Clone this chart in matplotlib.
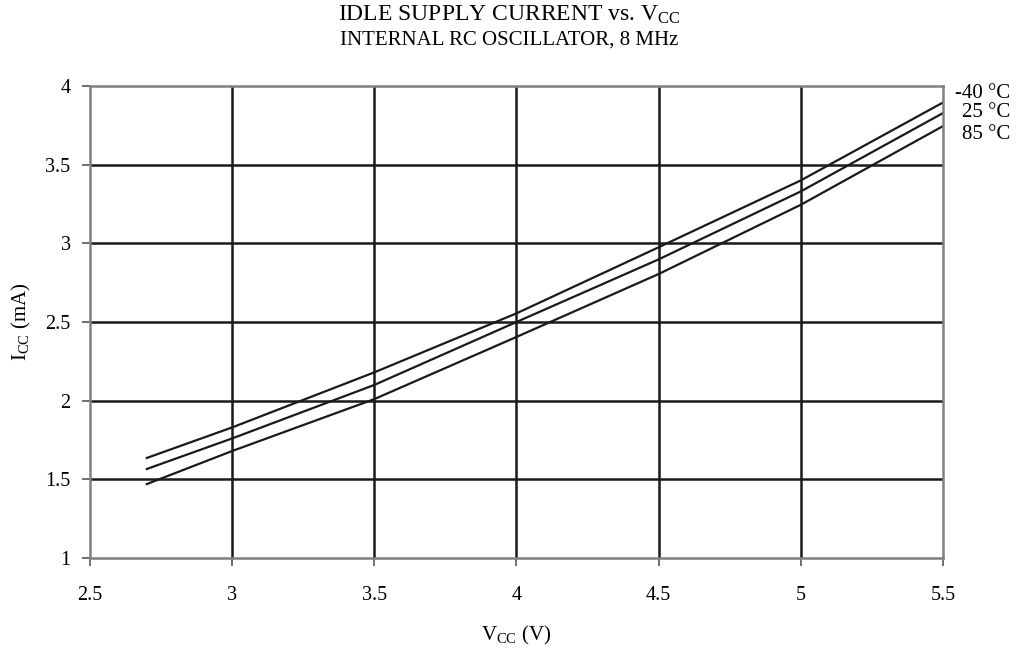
import matplotlib.pyplot as plt

plt.rcParams['font.family'] = ['Liberation Serif', 'DejaVu Serif']
plt.rcParams['mathtext.fontset'] = 'custom'
plt.rcParams['mathtext.rm'] = 'Liberation Serif'
plt.rcParams['mathtext.it'] = 'Liberation Serif'

vcc = [2.7, 3.0, 3.5, 4.0, 4.5, 5.0, 5.5]
icc_m40 = [1.636, 1.83, 2.18, 2.555, 2.975, 3.40, 3.895]
icc_25 = [1.566, 1.76, 2.10, 2.50, 2.898, 3.33, 3.828]
icc_85 = [1.47, 1.68, 2.01, 2.405, 2.805, 3.245, 3.745]
labels = ['-40 °C', '25 °C', '85 °C']
label_y = [3.95, 3.83, 3.69]

fig = plt.figure(figsize=(10.19, 6.49), dpi=100)
ax = fig.add_axes([0.0883, 0.1402, 0.8371, 0.7273])

for y in [1.5, 2, 2.5, 3, 3.5]:
    ax.axhline(y, color='#1a1a1a', lw=1.8, zorder=1)
for x in [3, 3.5, 4, 4.5, 5]:
    ax.axvline(x, color='#1a1a1a', lw=1.8, zorder=1)

for ys in [icc_m40, icc_25, icc_85]:
    ax.plot(vcc, ys, color='#1a1a1a', lw=1.6, zorder=2)

ax.set_xlim(2.5, 5.5)
ax.set_ylim(1, 4)
ax.set_xticks([2.5, 3, 3.5, 4, 4.5, 5, 5.5])
ax.set_xticklabels(['2.5', '3', '3.5', '4', '4.5', '5', '5.5'])
ax.set_yticks([1, 1.5, 2, 2.5, 3, 3.5, 4])
ax.set_yticklabels(['1', '1.5', '2', '2.5', '3', '3.5', '4'])
ax.tick_params(direction='out', length=6, width=1.2, color='#555555',
               labelsize=14.5)
ax.tick_params(axis='x', pad=14)
ax.tick_params(axis='y', pad=8)
for s in ax.spines.values():
    s.set_color('#808080')
    s.set_linewidth(1.8)

ax.set_xlabel('V$_{\\mathrm{CC}}$ (V)', fontsize=15, labelpad=14)
ax.set_ylabel('I$_{\\mathrm{CC}}$ (mA)', fontsize=15, labelpad=9)

for lab, y in zip(labels, label_y):
    ax.text(5.736, y, lab, fontsize=15, ha='right', va='center',
            clip_on=False)

fig.text(0.5, 0.977, 'IDLE SUPPLY CURRENT vs. V$_{\\mathrm{CC}}$',
         ha='center', va='center', fontsize=17)
fig.text(0.5, 0.938, 'INTERNAL RC OSCILLATOR, 8 MHz',
         ha='center', va='center', fontsize=15)

plt.savefig('out.png', dpi=100)
